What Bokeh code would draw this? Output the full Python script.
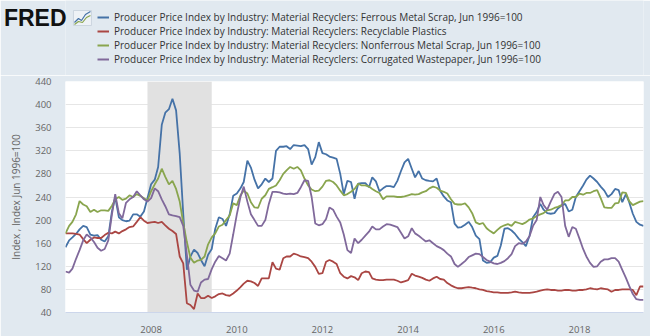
import pandas as pd
from bokeh.plotting import figure
from bokeh.layouts import column
from bokeh.models import (Range1d, BoxAnnotation, Legend, LegendItem,
                          FixedTicker, DatetimeTickFormatter)
from bokeh.embed import file_html
from bokeh.resources import INLINE

# ---------------- data (monthly, Jan 2006 .. Jul 2019) ----------------
start_month = "2006-01-01"
ferrous = [
    153, 165, 170, 176, 184, 190, 188, 175, 173, 174, 166, 163,   # 2006
    172, 215, 240, 205, 200, 198, 199, 210, 210, 206, 215, 238,   # 2007
    262, 270, 292, 365, 386, 392, 410, 390, 315, 211, 114, 137,   # 2008
    149, 143, 131, 120, 140, 150, 185, 205, 202, 190, 210, 242,   # 2009
    246, 255, 266, 303, 291, 270, 255, 262, 272, 266, 272, 320,   # 2010
    327, 327, 328, 323, 330, 329, 328, 330, 323, 296, 309, 335,   # 2011
    316, 314, 310, 308, 306, 280, 245, 268, 266, 237, 263, 264,   # 2012
    264, 257, 274, 267, 250, 255, 259, 259, 257, 268, 285, 300,   # 2013
    306, 289, 274, 285, 272, 269, 268, 267, 272, 251, 241, 234,   # 2014
    231, 194, 187, 188, 192, 197, 188, 173, 167, 130, 126, 127,   # 2015
    135, 138, 156, 185, 186, 182, 176, 168, 162, 155, 173, 205,   # 2016
    214, 228, 218, 212, 211, 212, 220, 225, 228, 215, 218, 240,   # 2017
    250, 260, 270, 277, 272, 266, 258, 251, 240, 245, 254, 252,   # 2018
    231, 245, 231, 211, 197, 192, 190,                            # 2019
]
plastics = [
    177, 177, 177, 176, 175, 167, 160, 166, 170, 169, 169, 174,
    178, 177, 180, 177, 181, 184, 188, 189, 197, 205, 199, 195,
    196, 197, 195, 197, 191, 185, 181, 176, 137, 125, 56, 53,
    46, 73, 65, 65, 69, 65, 68, 72, 73, 70, 69, 73,
    78, 84, 90, 95, 94, 91, 86, 99, 99, 99, 127, 116,
    114, 134, 137, 137, 142, 140, 137, 136, 134, 128, 119, 107,
    108, 128, 131, 128, 124, 108, 102, 99, 103, 101, 96, 108,
    111, 110, 99, 97, 96, 96, 97, 97, 97, 95, 92, 94,
    96, 107, 104, 102, 100, 97, 95, 99, 102, 98, 97, 91,
    87, 84, 82, 82, 83, 84, 83, 82, 80, 79, 77, 76,
    75, 75, 74, 74, 74, 75, 76, 75, 74, 74, 74, 75,
    76, 78, 79, 80, 79, 79, 78, 78, 79, 79, 78, 78,
    79, 79, 80, 82, 81, 80, 82, 81, 80, 76, 79, 79,
    80, 80, 80, 79, 70, 85, 85,
]
nonferrous = [
    177, 190, 197, 210, 233, 227, 224, 214, 218, 214, 217, 217,
    216, 225, 236, 240, 235, 237, 243, 240, 245, 242, 238, 234,
    250, 262, 272, 289, 275, 262, 268, 254, 232, 195, 162, 135,
    126, 130, 131, 137, 158, 170, 177, 189, 192, 200, 208, 229,
    226, 243, 251, 246, 231, 222, 221, 237, 243, 254, 257, 260,
    269, 280, 286, 292, 289, 292, 286, 272, 260, 253, 250, 251,
    258, 268, 269, 266, 260, 251, 243, 245, 249, 254, 263, 260,
    260, 258, 254, 250, 247, 236, 241, 241, 241, 240, 240, 241,
    243, 245, 244, 245, 248, 250, 255, 258, 256, 251, 249, 246,
    236, 228, 227, 227, 229, 222, 212, 196, 193, 195, 186, 181,
    177, 183, 188, 191, 193, 190, 197, 195, 193, 196, 201, 203,
    207, 210, 212, 217, 218, 221, 223, 226, 234, 234, 240, 240,
    246, 244, 247, 247, 250, 252, 238, 222, 221, 221, 229, 230,
    248, 247, 233, 226, 229, 232, 233,
]
wastepaper = [
    111, 109, 116, 133, 148, 165, 175, 170, 162, 152, 147, 150,
    165, 210, 245, 212, 203, 230, 236, 240, 250, 243, 236, 232,
    238, 255, 250, 236, 224, 210, 208, 207, 205, 190, 140, 88,
    78, 76, 92, 97, 98, 115, 128, 138, 134, 130, 142, 175,
    210, 240, 258, 232, 210, 200, 190, 190, 200, 228, 249, 249,
    248, 246, 245, 246, 245, 247, 257, 269, 268, 240, 194, 191,
    193, 202, 222, 218, 206, 196, 175, 148, 143, 168, 160, 166,
    173, 180, 189, 184, 184, 189, 193, 192, 190, 188, 178, 168,
    172, 186, 177, 173, 168, 163, 165, 160, 155, 152, 148, 142,
    137, 124, 119, 124, 129, 136, 139, 142, 141, 136, 131, 128,
    125, 124, 126, 129, 134, 141, 155, 160, 159, 163, 172, 190,
    200, 240, 226, 218, 232, 245, 249, 240, 190, 171, 188, 185,
    168, 150, 137, 126, 119, 120, 128, 132, 132, 134, 134, 128,
    114, 100, 86, 72, 63, 62, 62,
]
series_names = [
    "Producer Price Index by Industry: Material Recyclers: Ferrous Metal Scrap, Jun 1996=100",
    "Producer Price Index by Industry: Material Recyclers: Recyclable Plastics",
    "Producer Price Index by Industry: Material Recyclers: Nonferrous Metal Scrap, Jun 1996=100",
    "Producer Price Index by Industry: Material Recyclers: Corrugated Wastepaper, Jun 1996=100",
]
series_colors = ["#4572a7", "#aa4643", "#89a54e", "#80699b"]
tick_years = [2008, 2010, 2012, 2014, 2016, 2018]
y_ticks = [40, 80, 120, 160, 200, 240, 280, 320, 360, 400, 440]
recession = ("2007-12-01", "2009-06-01")
y_title = "Index , Index Jun 1996=100"
logo_text = "FRED"

dates = pd.date_range(start_month, periods=len(ferrous), freq="MS")
BG = "#e1e9f0"
LEFT, RIGHT = 64, 7
HEAD_H = 75

# ---------------- header: logo + legend ----------------
# header frame is aligned with the chart frame (x 64..643); data units = pixels
head = figure(width=650, height=HEAD_H, output_backend="svg", toolbar_location=None,
              x_range=Range1d(LEFT, 650 - RIGHT), y_range=Range1d(HEAD_H, 0),
              x_axis_location=None, y_axis_location="left",
              min_border_left=LEFT, min_border_right=RIGHT,
              min_border_top=0, min_border_bottom=0)
head.border_fill_color = BG
head.background_fill_color = BG
head.outline_line_color = None
head.xgrid.visible = False
head.ygrid.visible = False

# logo wordmark as the header's (only) axis label
head.yaxis.ticker = FixedTicker(ticks=[17])
head.yaxis.major_label_overrides = {17: logo_text}
head.yaxis.major_label_text_font = "Liberation Sans"
head.yaxis.major_label_text_font_style = "bold"
head.yaxis.major_label_text_font_size = "23px"
head.yaxis.major_label_text_color = "#111111"
head.yaxis.major_label_standoff = -7
head.yaxis.axis_line_color = None
head.yaxis.major_tick_line_color = None
head.yaxis.minor_tick_line_color = None

# small chart icon next to the wordmark
head.quad(left=[72], right=[90], top=[10], bottom=[25], fill_color="#eef2f6",
          line_color="#c5cfdb", line_width=0.8)
head.line([73, 77, 80, 84, 89], [22, 18, 20, 14, 11], line_color="#4572a7", line_width=1.2)
head.line([73, 77, 81, 85, 89], [24, 21, 22, 17, 15], line_color="#89a54e", line_width=1.2)

# legend swatches (renderers placed outside the visible range)
legend_dummies = [head.line([-100, -90], [-100, -100], line_color=c, line_width=2)
                  for c in series_colors]
legend = Legend(items=[LegendItem(label=n, renderers=[r]) for n, r in zip(series_names, legend_dummies)],
                location=(32, 9), orientation="vertical",
                label_text_font="Open Sans", label_text_font_size="10px",
                label_text_color="#333333",
                label_height=14, glyph_height=14, glyph_width=12, label_standoff=5,
                spacing=0, padding=2, margin=0,
                background_fill_alpha=0, border_line_color=None)
head.add_layout(legend, "center")

# ---------------- main chart ----------------
p = figure(width=650, height=336 - HEAD_H, x_axis_type="datetime",
           output_backend="svg", toolbar_location=None,
           x_range=Range1d(dates[0], dates[-1]),
           y_range=Range1d(y_ticks[0], y_ticks[-1]),
           min_border_left=LEFT, min_border_right=RIGHT,
           min_border_top=6, min_border_bottom=24)
p.border_fill_color = BG
p.background_fill_color = "#ffffff"
p.outline_line_color = None

p.add_layout(BoxAnnotation(left=pd.Timestamp(recession[0]), right=pd.Timestamp(recession[1]),
                           fill_color="#e1e1e1", fill_alpha=1.0, line_color=None,
                           level="underlay"))

for vals, col in zip([ferrous, plastics, nonferrous, wastepaper], series_colors):
    p.line(dates, vals, line_color=col, line_width=1.8)

to_ms = lambda y: pd.Timestamp(f"{y}-01-01").value / 1e6
p.xaxis.ticker = FixedTicker(ticks=[to_ms(y) for y in tick_years])
p.xaxis.formatter = DatetimeTickFormatter(years="%Y", months="%Y", days="%Y")
p.xaxis.axis_line_color = "#ccd6eb"
p.xaxis.major_tick_line_color = None
p.xaxis.minor_tick_line_color = None
p.xaxis.major_label_standoff = 7
p.xaxis.major_label_text_font = "Open Sans"
p.xaxis.major_label_text_font_size = "9.5px"
p.xaxis.major_label_text_color = "#666666"

p.yaxis.ticker = FixedTicker(ticks=y_ticks)
p.yaxis.axis_line_color = None
p.yaxis.major_tick_line_color = None
p.yaxis.minor_tick_line_color = None
p.yaxis.major_label_standoff = 8
p.yaxis.major_label_text_font = "Open Sans"
p.yaxis.major_label_text_font_size = "9.5px"
p.yaxis.major_label_text_color = "#666666"
p.yaxis.axis_label = y_title
p.yaxis.axis_label_text_font = "Open Sans"
p.yaxis.axis_label_text_font_style = "normal"
p.yaxis.axis_label_text_font_size = "10px"
p.yaxis.axis_label_text_color = "#666666"
p.yaxis.axis_label_standoff = 9

p.xgrid.grid_line_color = None
p.ygrid.grid_line_color = "#e6e6e6"
p.ygrid.grid_line_width = 1

layout = column(head, p, spacing=0)
open("out.html", "w").write(file_html(layout, INLINE))
